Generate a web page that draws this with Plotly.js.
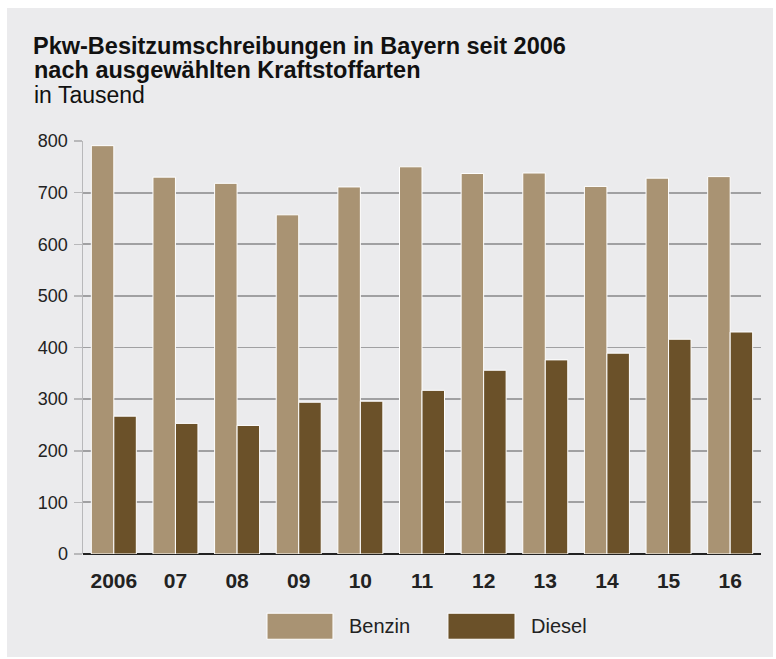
<!DOCTYPE html>
<html>
<head>
<meta charset="utf-8">
<script src="https://cdn.plot.ly/plotly-3.0.1.min.js"></script>
<style>
html,body{margin:0;padding:0;background:#ffffff;}
#chart{position:absolute;left:7px;top:8px;width:766px;height:649px;}
</style>
</head>
<body>
<div id="chart"></div>
<script>
const years = ['2006','07','08','09','10','11','12','13','14','15','16'];
const benzin = [791, 730, 718, 657, 711, 750, 737, 738, 712, 728, 731];
const diesel = [267, 253, 249, 294, 296, 317, 356, 376, 389, 416, 430];
const seriesNames = ['Benzin', 'Diesel'];
const colors = ['#a99373', '#6b5129'];
const yTicks = [0, 100, 200, 300, 400, 500, 600, 700, 800];
const titleLines = ['Pkw-Besitzumschreibungen in Bayern seit 2006', 'nach ausgewählten Kraftstoffarten', 'in Tausend'];

const font = 'Liberation Sans, Arial, Helvetica, sans-serif';

const traces = [benzin, diesel].map((vals, i) => ({
  type: 'bar',
  name: seriesNames[i],
  x: years,
  y: vals,
  marker: {color: colors[i], line: {color: '#ffffff', width: 1}},
  hoverinfo: 'x+y+name'
}));

// Legend drawn as large swatches (paper coords)
const legX = [[0.2714, 0.3687], [0.5383, 0.6372]];
const shapes = legX.map((p, i) => ({
  type: 'rect', xref: 'paper', yref: 'paper',
  x0: p[0], x1: p[1], y0: -0.2064, y1: -0.1434,
  fillcolor: colors[i], line: {color: '#ffffff', width: 1}
}));
const annotations = seriesNames.map((n, i) => ({
  xref: 'paper', yref: 'paper', x: legX[i][1] + 0.02, y: -0.175,
  xanchor: 'left', yanchor: 'middle', showarrow: false,
  text: n, font: {family: font, size: 20, color: '#222222'}
}));
// subtitle lines
annotations.push({
  xref: 'paper', yref: 'paper', x: -0.0753, y: 1.1713,
  xanchor: 'left', yanchor: 'middle', showarrow: false,
  text: '<b>' + titleLines[1] + '</b>', font: {family: font, size: 23.5, color: '#111111'}
});
annotations.push({
  xref: 'paper', yref: 'paper', x: -0.0753, y: 1.1107,
  xanchor: 'left', yanchor: 'middle', showarrow: false,
  text: titleLines[2], font: {family: font, size: 23, color: '#111111'}
});

const layout = {
  width: 766, height: 649,
  paper_bgcolor: '#ebebed', plot_bgcolor: '#ebebed',
  margin: {l: 76, r: 12, t: 133, b: 103.2},
  title: {
    text: '<b>' + titleLines[0] + '</b>',
    x: 26 / 766, xref: 'container', xanchor: 'left',
    y: 0.9425, yref: 'container', yanchor: 'middle',
    font: {family: font, size: 23.5, color: '#111111'}
  },
  barmode: 'group', bargap: 0.27, bargroupgap: 0,
  showlegend: false,
  xaxis: {
    type: 'category', tickvals: years, ticktext: years,
    showgrid: false, ticks: '', showline: false,
    ticklabelstandoff: 12,
    tickfont: {family: font, size: 21, color: '#222222', weight: 'bold'},
    fixedrange: true
  },
  yaxis: {
    range: [0, 800], tickvals: yTicks,
    showgrid: true, gridcolor: '#a0a0a2', gridwidth: 1.8,
    zeroline: true, zerolinecolor: '#222222', zerolinewidth: 2.5,
    showline: true, linecolor: '#b8b8ba', linewidth: 1.5,
    ticks: 'outside', ticklen: 8, tickcolor: '#b8b8ba', tickwidth: 1.5,
    ticklabelstandoff: 2,
    tickfont: {family: font, size: 18, color: '#222222'},
    fixedrange: true
  },
  shapes: shapes,
  annotations: annotations
};

Plotly.newPlot('chart', traces, layout, {displayModeBar: false, staticPlot: true});
</script>
</body>
</html>
